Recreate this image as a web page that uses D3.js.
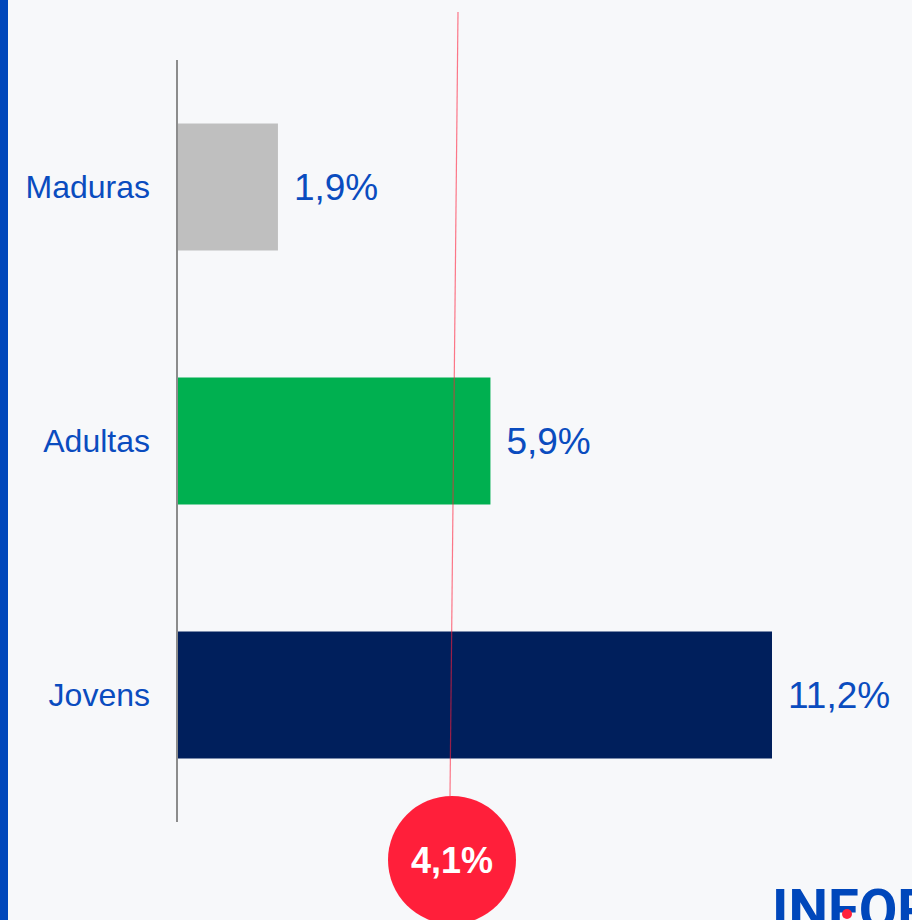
<!DOCTYPE html>
<html>
<head>
<meta charset="utf-8">
<script src="https://cdn.jsdelivr.net/npm/d3@7"></script>
<style>
  html, body { margin: 0; padding: 0; background: #f7f8fa; }
  svg { display: block; }
</style>
</head>
<body>
<div id="chart"></div>
<script>
// faixas etárias e taxa de desemprego (%)
const categories = ["Maduras", "Adultas", "Jovens"];
const values = [1.9, 5.9, 11.2];
const barColors = ["#bfbfbf", "#00b050", "#001f5c"];
const averageLabel = "4,1%";

const width = 912, height = 920;
const blue = "#0a4cbf";

const svg = d3.select("#chart").append("svg")
  .attr("width", width)
  .attr("height", height);

svg.append("rect")
  .attr("width", width).attr("height", height)
  .attr("fill", "#f7f8fa");

// left accent strip
svg.append("rect")
  .attr("x", 0).attr("y", 0)
  .attr("width", 8).attr("height", height)
  .attr("fill", "#0047bb");

const x = d3.scaleLinear()
  .domain([0, 11.2])
  .range([177, 772]);

const y = d3.scaleBand()
  .domain(categories)
  .range([60, 822])
  .paddingInner(0.5)
  .paddingOuter(0.25);

const fmt = v => d3.format(".1f")(v).replace(".", ",") + "%";

// bars
svg.append("g").selectAll("rect")
  .data(categories)
  .enter().append("rect")
  .attr("x", x(0))
  .attr("y", d => y(d))
  .attr("width", (d, i) => x(values[i]) - x(0))
  .attr("height", y.bandwidth())
  .attr("fill", (d, i) => barColors[i]);

// axis line
svg.append("line")
  .attr("x1", x(0)).attr("x2", x(0))
  .attr("y1", 60).attr("y2", 822)
  .attr("stroke", "#8c8c8c")
  .attr("stroke-width", 2);

// category labels
svg.append("g").selectAll("text")
  .data(categories)
  .enter().append("text")
  .attr("x", 150)
  .attr("y", d => y(d) + y.bandwidth() / 2)
  .attr("dy", "0.35em")
  .attr("text-anchor", "end")
  .attr("font-family", "Liberation Sans, Arial, sans-serif")
  .attr("font-size", "32px")
  .attr("fill", blue)
  .text(d => d);

// value labels
svg.append("g").selectAll("text")
  .data(categories)
  .enter().append("text")
  .attr("x", (d, i) => x(values[i]) + 16)
  .attr("y", d => y(d) + y.bandwidth() / 2)
  .attr("dy", "0.35em")
  .attr("font-family", "Liberation Sans, Arial, sans-serif")
  .attr("font-size", "37px")
  .attr("fill", blue)
  .text((d, i) => fmt(values[i]));

// average marker (thin red line + badge)
const cx = 452, cy = 860;
svg.append("line")
  .attr("x1", 458).attr("y1", 12)
  .attr("x2", 450).attr("y2", cy - 64)
  .attr("stroke", "#ff1f3a")
  .attr("stroke-opacity", 0.6)
  .attr("stroke-width", 1.2);

svg.append("circle")
  .attr("cx", cx).attr("cy", cy)
  .attr("r", 64)
  .attr("fill", "#ff1f3a");

svg.append("text")
  .attr("x", cx).attr("y", cy)
  .attr("dy", "0.35em")
  .attr("text-anchor", "middle")
  .attr("font-family", "Liberation Sans, Arial, sans-serif")
  .attr("font-weight", "bold")
  .attr("font-size", "36px")
  .attr("fill", "#ffffff")
  .text(averageLabel);

// logo, cut off at the corner like the source
svg.append("text")
  .attr("x", 772).attr("y", 929)
  .attr("font-family", "Roboto, Liberation Sans, sans-serif")
  .attr("font-weight", "bold")
  .attr("font-size", "56px")
  .attr("fill", "#0047bb")
  .text("INFORM");

svg.append("circle")
  .attr("cx", 847).attr("cy", 914)
  .attr("r", 5)
  .attr("fill", "#ff1f3a");
</script>
</body>
</html>
